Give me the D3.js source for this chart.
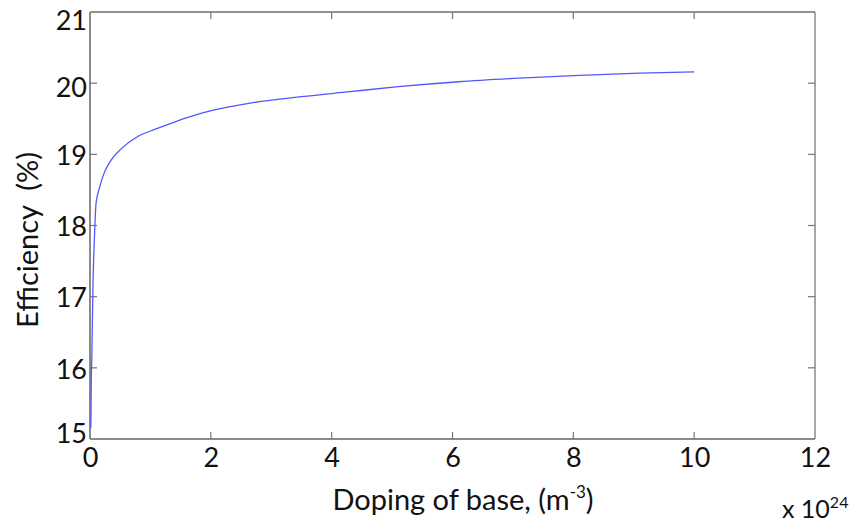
<!DOCTYPE html>
<html><head><meta charset="utf-8">
<script src="https://cdn.jsdelivr.net/npm/d3@7"></script>
<style>
body{margin:0;background:#fff;}
text{font-family:Lato,"Open Sans",sans-serif;fill:#111;}
</style></head>
<body><svg id="c" width="858" height="523"></svg>
<script>
// Doping of base (x 10^24 m^-3)
const doping = [0.012,0.017,0.02,0.03,0.05,0.07,0.1,0.16,0.24,0.35,0.52,0.79,1.07,1.35,1.62,2.04,2.65,3.5,4.3,5.1,6.1,7.1,8.1,9.1,10];
// Efficiency (%)
const efficiency = [15.15,15.38,15.75,16.15,17.2,17.75,18.31,18.54,18.75,18.92,19.08,19.25,19.35,19.44,19.52,19.62,19.72,19.81,19.88,19.95,20.02,20.07,20.11,20.14,20.16];
const xTicks = [0,2,4,6,8,10,12];
const yTicks = [15,16,17,18,19,20,21];

const svg = d3.select("#c");
const L=90, R=815, T=12, B=439;
const x = d3.scaleLinear().domain([0,12]).range([L,R]);
const y = d3.scaleLinear().domain([15,21]).range([B,T]);

// frame
svg.append("line").attr("x1",L).attr("x2",R).attr("y1",T).attr("y2",T).attr("stroke","#222").attr("stroke-width",1.2);
svg.append("line").attr("x1",L).attr("x2",R).attr("y1",B).attr("y2",B).attr("stroke","#8a8a8a").attr("stroke-width",2);
svg.append("line").attr("x1",L).attr("x2",L).attr("y1",T).attr("y2",B).attr("stroke","#8a8a8a").attr("stroke-width",2);
svg.append("line").attr("x1",R).attr("x2",R).attr("y1",T).attr("y2",B).attr("stroke","#8a8a8a").attr("stroke-width",1.5);

// axes
const xa = svg.append("g").attr("transform",`translate(0,${B})`)
  .call(d3.axisBottom(x).tickValues(xTicks).tickSize(0).tickPadding(9).tickFormat(d3.format("d")));
xa.select(".domain").remove();
xa.selectAll("text").attr("font-size",27).style("font-family","Lato");
const ya = svg.append("g").attr("transform",`translate(${L},0)`)
  .call(d3.axisLeft(y).tickValues(yTicks).tickSize(0).tickPadding(3).tickFormat(d3.format("d")));
ya.select(".domain").remove();
ya.selectAll("text").attr("font-size",27).style("font-family","Lato")
  .attr("dy",d=> d===21 ? "0.66em" : d===15 ? "0.12em" : d===20 ? "0.5em" : "0.38em");

// inward ticks (mirrored)
const tk = svg.append("g").attr("stroke","#777").attr("stroke-width",1.2);
xTicks.slice(1,-1).forEach(v=>{
  tk.append("line").attr("x1",x(v)).attr("x2",x(v)).attr("y1",B).attr("y2",B-7);
  tk.append("line").attr("x1",x(v)).attr("x2",x(v)).attr("y1",T).attr("y2",T+7);
});
yTicks.slice(1,-1).forEach(v=>{
  tk.append("line").attr("x1",L).attr("x2",L+7).attr("y1",y(v)).attr("y2",y(v));
  tk.append("line").attr("x1",R).attr("x2",R-7).attr("y1",y(v)).attr("y2",y(v));
});

// curve
svg.append("path").datum(doping.map((d,i)=>[d,efficiency[i]]))
  .attr("fill","none").attr("stroke","#5555ff").attr("stroke-width",1.3)
  .attr("d",d3.line().x(d=>x(d[0])).y(d=>y(d[1])).curve(d3.curveMonotoneX));

// labels
const xl = svg.append("text").attr("x",463).attr("y",510).attr("text-anchor","middle").attr("font-size",29);
xl.append("tspan").text("Doping of base, (m");
xl.append("tspan").text("-3").attr("font-size",17).attr("dy",-12);
xl.append("tspan").text(")").attr("dy",12);

svg.append("text").attr("transform","translate(38,240) rotate(-90)").attr("text-anchor","middle")
  .attr("font-size",29).text("Efficiency\u00a0 (%)");

const ex = svg.append("text").attr("x",782).attr("y",518).attr("font-size",25);
ex.append("tspan").text("x 10");
ex.append("tspan").text("24").attr("font-size",16).attr("dy",-10);
</script></body></html>
